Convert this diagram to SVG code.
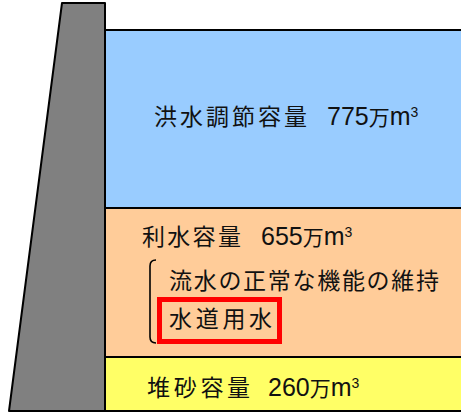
<svg xmlns="http://www.w3.org/2000/svg" width="461" height="414" viewBox="0 0 461 414">
<style>
.band{stroke:#000;stroke-width:2}
.jp{font-family:"Noto Sans CJK JP","Noto Sans CJK SC",sans-serif;font-size:23px;fill:#111}
.num{font-family:"Liberation Sans","Noto Sans CJK JP",sans-serif;font-size:25px;fill:#111}
.man{font-family:"Noto Sans CJK JP",sans-serif;font-size:21px}
.sup{font-size:14px}
</style>
<rect x="0" y="0" width="461" height="414" fill="#fff"/>
<g id="flood-control">
<rect class="band" x="105" y="30" width="360" height="178" fill="#99CCFF"/>
<text class="jp" x="154" y="125" letter-spacing="3">洪水調節容量</text>
<text class="num" x="327" y="125">775<tspan class="man">万</tspan>m<tspan class="sup" dy="-8.5">3</tspan></text>
</g>
<g id="water-use">
<rect class="band" x="105" y="208" width="360" height="149" fill="#FFCC99"/>
<text class="jp" x="142" y="245" letter-spacing="2.3">利水容量</text>
<text class="num" x="261" y="245">655<tspan class="man">万</tspan>m<tspan class="sup" dy="-8.5">3</tspan></text>
<path d="M156,260 Q150,260 150,266 L150,337 Q150,343 156,343" fill="none" stroke="#000" stroke-width="1.6"/>
<text class="jp" x="169" y="289" letter-spacing="1.7">流水の正常な機能の維持</text>
<rect x="159.5" y="299.5" width="120" height="42" fill="none" stroke="#FF0000" stroke-width="5"/>
<text class="jp" x="169" y="327" letter-spacing="3.7">水道用水</text>
</g>
<g id="sediment">
<rect class="band" x="105" y="357" width="360" height="54" fill="#FFFF66"/>
<text class="jp" x="147" y="396" letter-spacing="3.7">堆砂容量</text>
<text class="num" x="268" y="396">260<tspan class="man">万</tspan>m<tspan class="sup" dy="-8.5">3</tspan></text>
</g>
<g id="dam">
<polygon points="62,3 105,3 105,411 9,411" fill="#808080" stroke="#000" stroke-width="2" stroke-linejoin="round"/>
</g>
<g id="connectors"></g>
</svg>
